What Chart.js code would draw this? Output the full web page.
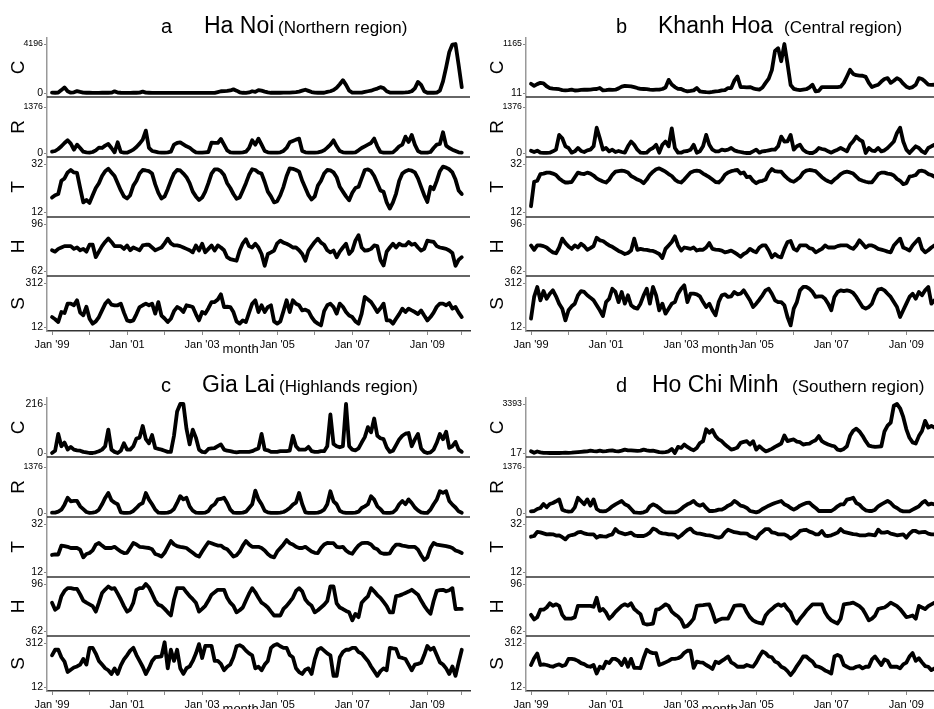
<!DOCTYPE html>
<html>
<head>
<meta charset="utf-8">
<script src="https://cdn.jsdelivr.net/npm/chart.js@4.4.1/dist/chart.umd.min.js"></script>
<style>
  html, body { margin: 0; padding: 0; background: #fff; overflow: hidden; width: 934px; height: 709px; }
  .panel { position: absolute; width: 480px; height: 360px; }
  .panel canvas { position: absolute; left: 0; top: 0; }
  .ttl { position: absolute; white-space: nowrap; line-height: 1; color: #000;
         font-family: "Liberation Sans", Arial, sans-serif; }
</style>
</head>
<body>
<div class="panel" style="left:0;top:0"><canvas id="ca" width="480" height="360"></canvas></div>
<div class="panel" style="left:479px;top:0"><canvas id="cb" width="480" height="360"></canvas></div>
<div class="panel" style="left:0;top:360px"><canvas id="cc" width="480" height="360"></canvas></div>
<div class="panel" style="left:479px;top:360px"><canvas id="cd" width="480" height="360"></canvas></div>
<script>
// ---- data: monthly series Jan 1999 .. Dec 2009 (132 months) ----
const xTickMonths = [0, 12, 24, 36, 48, 60, 72, 84, 96, 108, 120, 131];
const xTickLabels = ["Jan '99", "", "Jan '01", "", "Jan '03", "", "Jan '05", "", "Jan '07", "", "Jan '09", ""];
const varNames = ['C', 'R', 'T', 'H', 'S'];

const rTicks = [0, 1376];
const tTicks = [12, 32];
const hTicks = [62, 96];
const sTicks = [12, 312];
const haNoiCTicks = [0, 4196];
const khanhHoaCTicks = [11, 1165];
const giaLaiCTicks = [0, 216];
const hoChiMinhCTicks = [17, 3393];

const haNoiC = [
  30,20,40,250,480,150,30,60,160,90,30,20,
  20,15,15,15,20,20,20,30,140,40,20,15,
  15,15,20,20,30,120,30,20,15,15,15,15,
  10,10,10,10,10,10,10,10,10,10,10,10,
  10,10,10,10,15,80,150,160,180,220,310,200,
  60,20,10,50,150,100,250,200,120,50,20,20,
  20,20,30,30,40,60,80,120,200,280,180,80,
  30,20,20,20,100,150,250,450,750,1100,700,200,
  40,30,30,40,100,150,200,300,380,500,420,150,
  40,30,30,30,40,50,80,150,400,950,700,150,
  20,20,20,40,200,1000,2200,3500,4150,4196,2400,500];
const haNoiR = [
  40,60,120,200,300,380,280,100,250,150,40,20,
  10,30,80,160,150,220,270,150,20,320,30,10,
  10,50,100,180,280,400,670,150,60,40,20,10,
  10,20,40,250,300,320,260,200,160,80,20,10,
  10,20,30,310,300,300,420,250,80,20,10,10,
  10,20,40,150,380,250,430,250,60,20,10,10,
  10,20,60,150,320,360,400,430,60,20,10,10,
  10,20,40,80,160,250,380,200,60,20,10,10,
  10,20,80,150,200,250,300,430,200,30,10,10,
  10,20,100,200,250,490,330,540,250,60,10,10,
  10,30,150,250,270,620,220,150,100,60,20,10];
const haNoiT = [
  18,19,19.5,25,26,28.5,29.5,28.5,28.3,22,16,17,
  15.8,19,22,24,27,29,30,28.5,27,24,21,18.5,
  17.6,19,23,25,28,29.5,29.3,29,28,23.5,20,17.6,
  18.5,21.5,25,28,29.5,29.3,28,26.5,24,20.5,18.5,17,
  18,20.5,24,28,29.8,29.8,29,27.4,24,22,19.5,17.5,
  18,21,24,27.5,29.8,29.5,28.5,28,24.5,20.5,18.5,16,
  16.5,19,22.5,27,30.2,30,29.5,28.8,25,22,19,17.2,
  18.5,23,25,28,29.5,29.3,28.5,26.5,22.5,20.5,18.5,16.9,
  20,22,22.5,26,29.5,29.8,29,27,24,21,20.4,16,
  13.4,16,19.7,25,28,29,29.5,29.2,28.5,26,22.5,19,
  16.2,22.5,21.5,25,29,30.9,30.5,29.8,28.5,25.5,21,19.5];
const haNoiH = [
  77,76,78,79,80,80,80,78,79,77,78,76,
  81,81,72,76,80,83,85.5,83,80,80,80,78,
  80.5,77,79,78,77,80.5,81,81,79,77,78,79,
  82,85.4,82,80.5,80.5,80,79,78,77,75.5,80.5,76.8,
  81.7,75.5,78,80.5,76.8,80.5,79,77,72,70.6,70,69.4,
  76.8,82,85,80,79,81.7,79,74.3,65.7,74.3,75.5,76.8,
  82,84,82.5,81.7,80.5,79,79,77,74.3,69.4,76.8,80,
  83,85.4,82.5,81,77,75.5,76.8,71.9,76,79,81.7,74.3,
  76.8,84,87.9,79,76.8,77,78,80.5,80,70,66,76,
  79,81.7,79,81.7,80.5,80.5,83,81,81.7,79,76.8,78,
  84,83.5,83,80,79,78.5,78,76.8,75,65.7,70,72];
const haNoiS = [
  80,65,46,114,107,171,171,160,194,110,92,150,
  68,35,50,80,125,170,194,165,160,160,171,110,
  57,50,57,100,148,160,171,160,171,103,182,90,
  70,46,68,120,148,137,114,160,155,148,100,57,
  114,103,140,182,182,200,235,148,150,148,114,50,
  35,57,46,110,171,194,114,160,114,148,160,50,
  35,50,120,194,114,194,170,160,125,130,120,80,
  50,35,23,120,160,171,148,103,171,150,114,90,
  80,50,35,103,217,200,182,150,114,140,171,57,
  57,35,68,100,137,114,137,125,114,100,125,90,
  57,80,110,150,171,171,160,175,137,148,110,80];

const khanhHoaC = [
  230,180,220,250,240,170,128,115,110,100,80,73,
  80,90,70,75,85,90,88,90,100,105,128,73,
  80,90,85,90,120,160,180,175,167,150,128,110,
  105,100,90,85,90,90,105,140,320,210,150,110,
  105,70,50,60,73,128,50,40,30,27,35,50,
  55,73,80,128,128,300,401,151,151,145,151,120,
  100,90,140,250,350,550,1000,1064,760,1165,700,200,
  110,90,80,90,100,140,206,50,60,151,150,151,
  151,150,151,160,250,400,557,460,430,420,417,390,
  250,151,180,206,280,340,362,250,300,362,320,230,
  160,128,150,206,362,340,280,210,200,206,200,200];
const khanhHoaR = [
  70,30,70,10,5,5,10,50,100,540,440,200,
  150,10,50,150,60,30,80,100,200,757,440,100,
  150,50,100,30,60,30,10,200,344,246,100,10,
  5,10,100,150,246,10,246,344,200,737,150,10,
  10,50,60,100,246,10,50,200,540,246,100,50,
  50,100,80,100,150,80,50,30,10,0,0,50,
  100,10,50,60,80,100,100,200,491,344,350,540,
  100,200,246,100,30,0,0,50,150,120,100,50,
  10,60,100,150,100,50,246,350,491,400,344,0,
  150,70,60,150,50,80,150,246,344,600,757,344,
  100,0,100,200,150,50,0,150,200,246,250,200];
const khanhHoaT = [
  14.4,24.6,25,27.8,28,28.4,28.4,28,27.4,26,25,24.3,
  24.3,24.5,26.5,28.4,28,27.8,28.4,28,27.2,26,25.3,24.7,
  24.3,25.5,27.5,28.8,29,29.2,29,28.5,27,26.3,25.5,25,
  24,25.5,27.5,28.8,29.8,30.2,29.5,28.8,27.8,27,25.5,24.6,
  24.3,25.5,27,28.5,29,29.2,29,28,27.3,26.5,25.5,24.5,
  24.3,25.5,27.5,28.5,29,29.3,29.5,28,28.5,26.5,26.7,25,
  24,24.8,25,25.5,28.4,29.9,29,28.8,28.8,27.2,26,25,
  24.6,25.5,26.5,28.4,29.2,29.5,29.3,29,27.8,26.5,25.5,24.8,
  24.3,25.5,26.5,27.8,28.5,28.8,28.5,28,26.7,25.5,25,24.6,
  24.3,24.4,26,27.8,28.4,28.4,28,27.8,27.2,25.8,25,23.6,
  24,26.7,27,27.4,29,29.2,28.8,27.8,27.4,26.7,26.5,26];
const khanhHoaH = [
  80.5,77.3,80.5,80.5,80,79,77,75.5,74.8,79,85.4,82.2,
  79.8,78,80.5,79,81.7,80,77.3,78.5,80,86.1,84.2,83.7,
  82,80.5,79.5,78,76.5,75.5,74.3,75,76.8,85.4,77.3,78,
  77.5,77.3,76.8,76.5,75.5,74.3,71.4,78,80.5,83,87.1,80.5,
  76.8,79,78.5,78,79,76.8,77.5,77.3,79,82.2,78,77.5,
  77.3,76.8,75.5,76,76.8,75.5,74,72.3,74.3,75.5,78,76.5,
  75.5,79,80.5,80.5,76.8,71.9,74.3,72.5,71.9,78,83,83.7,
  78,76.8,80.5,80.5,80.5,78.5,78,75.5,76.8,78,80.5,79,
  79,79,80,80.5,80.5,80.5,79,78,80.5,84.2,81.7,79,
  80.5,80.5,79.5,78,77.5,76.8,76,75.5,80.5,83,85.4,79,
  78,76.8,80.5,83,85.4,78,75.5,77,79,80.5,80,80];
const khanhHoaS = [
  69,217,285,194,257,205,239,262,221,171,137,57,
  126,153,171,228,257,251,228,212,194,160,126,87,
  182,205,273,251,182,251,171,228,160,144,137,171,
  228,273,171,285,228,126,171,103,137,171,182,239,
  273,296,182,239,239,235,221,182,148,171,126,92,
  182,228,235,217,221,251,235,239,262,228,194,148,
  171,198,228,262,273,239,194,182,182,160,80,23,
  137,182,262,285,285,273,251,217,221,221,205,171,
  126,217,251,262,257,262,257,244,217,182,148,137,
  148,171,228,267,273,262,239,217,182,148,80,126,
  171,217,239,205,251,228,262,285,171,194,182,194];

const giaLaiC = [
  0,10,84,30,46,15,27,15,12,10,5,3,
  0,0,3,8,15,30,103,15,5,0,10,43,
  15,15,30,64,68,119,61,43,79,22,18,15,
  10,5,5,76,183,216,216,106,38,103,68,15,
  5,3,18,20,22,30,38,15,10,8,5,3,
  5,5,5,5,8,15,20,84,15,12,5,5,
  5,8,8,8,10,76,30,15,15,15,27,8,
  5,5,8,8,30,170,40,30,25,30,216,30,
  15,12,20,46,70,114,91,152,76,65,61,25,
  5,10,35,60,76,85,88,30,60,84,20,5,
  0,3,15,45,84,61,94,23,30,49,15,5];
const giaLaiR = [
  10,10,40,100,250,455,350,360,360,200,116,30,
  5,10,30,100,260,450,600,380,310,262,20,5,
  5,10,60,150,250,300,600,400,262,100,10,5,
  5,10,40,120,300,504,407,455,200,68,10,5,
  5,10,60,200,262,407,420,455,300,100,10,5,
  5,10,40,150,262,669,407,262,68,20,5,5,
  5,10,30,80,150,250,310,600,262,20,5,5,
  5,10,40,100,262,650,350,262,68,20,5,5,
  5,10,40,150,200,262,504,400,200,116,10,5,
  5,20,100,262,360,262,407,300,165,80,20,5,
  5,100,262,400,650,600,650,360,250,165,50,10];
const giaLaiT = [
  19.1,19.3,19.3,23,22.8,22.5,22,22,22,21.3,18.1,19.5,
  19.9,21,23.4,24.1,23,22,22,22,22.5,21.5,20.5,19.9,
  20,22,24.1,23.5,22.5,22.4,22.2,22,21.5,19.5,19.1,18.4,
  20,22.5,24.9,23.5,22.8,22.5,22.3,22,21,20,19,18.4,
  20.5,22.5,24.4,24,23.5,23,23,22,21.5,20,18.4,19,
  20.5,23,24.9,23.5,22.5,22.5,22.5,22,21,19.5,18.5,18.1,
  20.5,22,23.5,25.3,24,23.5,22.5,22,22,22.5,21.5,20.5,
  20,19.9,22,23.5,24.1,24,24,22.5,22.3,22.5,21,20,
  19.6,21.5,23,24,24.1,24.1,23.5,22,21.5,20,19.6,19.6,
  19.8,22,23.4,23.4,23,22.8,22.5,22.5,22.5,21.3,19,17,
  18.1,22,24.1,23.4,23.2,23,22.8,22.5,22,21,20.5,19.9];
const giaLaiH = [
  82.5,77.4,79,87.2,91,93,93,92.5,92.5,88.5,84,82.5,
  81.3,80,76,82.5,89.5,92,94.2,92.5,93,89,84.8,80,
  76,77.5,82.5,91.8,93,93,96,93.5,89,84,81,80.2,
  78,75.5,73.2,84.8,93,93,93,90,87.2,85,82.5,76,
  78,80.2,84,88.3,90,91.8,91.8,91.8,86,82.5,80.2,75.5,
  77,79,84,89,93,90,86,82.5,81,79,76,73.2,
  73.2,73.2,78,80.2,83,86,91,93,90.7,84.8,82,80.2,
  75.5,77,79,81,83.7,94.2,94.2,82,79,77.9,76.5,75.5,
  69.7,74.4,72,82.5,85,87,93,90.7,88,86,83,80,
  75.5,75.5,87.2,87.6,88.5,89.5,90.5,91.8,90,88.3,84,80.2,
  77,74.4,83.7,91,91.5,91.8,90.7,91.5,93,77.9,78,78];
const giaLaiS = [
  228,266,266,215,185,114,130,145,152,165,203,165,
  279,279,240,190,165,140,126,101,139,101,160,200,
  228,260,279,230,190,150,100,140,190,215,218,221,
  317,139,266,190,266,140,101,140,152,190,240,304,
  210,292,292,292,190,190,170,126,150,165,215,290,
  297,285,260,241,228,139,150,126,165,190,279,297,
  304,290,279,279,230,215,140,114,101,130,139,101,
  200,266,279,260,241,228,88,88,215,250,266,266,
  279,279,250,241,215,190,152,120,88,120,139,126,
  279,275,272,215,210,203,165,126,165,170,177,230,
  292,266,279,230,180,165,139,101,152,88,180,266];

const hoChiMinhC = [
  133,30,120,60,30,20,17,17,17,17,30,40,
  30,40,60,80,100,120,133,180,150,133,180,133,
  150,180,203,150,133,180,250,200,203,180,160,180,
  250,200,160,180,133,80,60,80,133,297,17,436,
  366,600,436,300,203,366,700,832,1650,1415,1600,1180,
  950,832,600,436,250,300,400,716,780,832,600,832,
  250,483,300,133,200,300,436,550,670,1228,832,900,
  950,800,763,600,640,670,800,900,1180,832,700,600,
  530,483,250,203,300,483,1200,1550,1695,1500,1200,832,
  530,480,436,460,483,1500,1900,2113,3280,3393,3100,2500,
  1650,1065,750,670,1180,1530,2230,1765,1880,1760,1800,1850];
const hoChiMinhR = [
  50,60,120,150,270,170,270,300,350,407,100,60,
  40,50,170,455,360,260,407,220,407,120,60,50,
  60,120,200,260,310,360,260,220,120,20,10,5,
  20,60,200,260,220,150,60,20,20,20,20,50,
  120,200,260,300,360,260,220,260,150,60,60,70,
  100,100,150,220,260,360,300,220,200,150,60,40,
  20,50,120,170,220,260,300,330,360,260,220,150,
  100,150,220,260,300,310,220,150,60,60,60,60,
  60,120,200,260,260,400,420,455,300,250,150,80,
  60,60,100,200,260,310,360,300,200,150,80,50,
  50,50,100,150,200,300,360,250,280,260,300,280];
const hoChiMinhT = [
  26.7,27,28.7,28.5,28.1,27.7,27.8,27.7,27.2,27.3,26.5,25.6,
  27,27.4,27.7,28.5,28.7,28.1,27.8,27.7,27.7,26.3,27,26.8,
  26.7,27.3,27.7,29.9,28.6,28.2,27.7,28,28.4,27.3,27,27,
  27,27.5,28.4,30.1,29.6,28.5,28.1,28,27.7,27.7,27.5,26.3,
  27.2,28.4,29.5,30.1,28.7,28.1,28,27.7,27.4,27.3,27,26.5,
  26.3,26.7,28.5,29.6,29.1,28.6,28.4,28.1,28.1,28,27,26.5,
  25.9,27.7,28.8,29.9,29.9,28.5,28.3,27.7,27.7,27.7,27,25.9,
  26.8,27.7,29.1,29.4,29.6,28.8,28.4,27.7,27.7,29.1,27.2,27,
  27.3,27.8,28.4,29.9,28.7,28.4,28.1,27.8,27.7,27.3,27.3,27.3,
  27.7,27.5,27.3,29.6,28.4,28.4,28.7,28,27.7,27.3,27.5,27.7,
  26.3,28,29.1,29.1,28.4,28.6,28.7,28,27.7,27.7,27.7,27.7];
const hoChiMinhH = [
  73.7,70.4,72,77.4,77.4,79,82,80.2,81.3,80.2,73.7,70.9,
  70.9,71,72,80.2,80.2,80.2,80.2,80.2,79.5,86,76.6,77.9,
  75.3,70.9,73,75.8,78,80.2,81.3,80.2,82,77.9,76,74.2,
  67.4,66.7,67,67.4,77.4,77.9,79.5,81.3,80.2,76,74,72.5,
  70,65,65.7,68,70.9,80.2,80.5,80.7,81,81.3,75.5,68.5,
  70,70.9,70.9,70.9,75.5,80.2,80.5,80.7,80.2,75.5,72,69.7,
  68.5,67.8,67.4,73.2,76,77.9,80,81.3,80.2,81.3,78,75.5,
  70,67.4,70.9,73.5,76.6,79,81.3,81.3,81.3,81.3,75.5,72,
  69.7,68.5,67.4,70.9,81.3,81.7,82,82.5,81.3,80,77.9,74,
  69.7,71,73.2,77.9,78.5,79,80.5,82.5,81.3,80,77.9,75,
  72,72.5,73.2,70.9,80.2,79,77.9,80,81.3,82.5,82,81];
const hoChiMinhS = [
  162,208,240,162,166,162,155,150,160,166,155,162,
  204,204,200,190,175,168,155,150,162,104,150,139,
  185,175,204,204,190,162,204,150,204,143,143,140,
  210,266,250,243,243,162,170,180,190,204,204,208,
  220,245,259,259,143,185,180,178,162,150,135,185,
  175,190,204,220,180,168,150,150,150,162,155,150,
  180,220,254,243,220,215,185,175,150,140,120,93,
  120,155,185,220,220,200,185,155,150,140,125,116,
  104,220,231,220,162,150,139,139,150,155,139,150,
  150,200,220,190,162,200,190,150,150,150,139,166,
  178,220,243,190,208,180,155,150,127,139,150,145];

const panels = [
  { canvas: 'ca', letter: 'a', name: 'Ha Noi', region: '(Northern region)', pos: [161, 204, 278], base: 33,
    series: [haNoiC, haNoiR, haNoiT, haNoiH, haNoiS], ticks: [haNoiCTicks, rTicks, tTicks, hTicks, sTicks] },
  { canvas: 'cb', letter: 'b', name: 'Khanh Hoa', region: '(Central region)', pos: [137, 179, 305], base: 33,
    series: [khanhHoaC, khanhHoaR, khanhHoaT, khanhHoaH, khanhHoaS], ticks: [khanhHoaCTicks, rTicks, tTicks, hTicks, sTicks] },
  { canvas: 'cc', letter: 'c', name: 'Gia Lai', region: '(Highlands region)', pos: [161, 202, 279], base: 32,
    series: [giaLaiC, giaLaiR, giaLaiT, giaLaiH, giaLaiS], ticks: [giaLaiCTicks, rTicks, tTicks, hTicks, sTicks] },
  { canvas: 'cd', letter: 'd', name: 'Ho Chi Minh', region: '(Southern region)', pos: [137, 173, 313], base: 32,
    series: [hoChiMinhC, hoChiMinhR, hoChiMinhT, hoChiMinhH, hoChiMinhS], ticks: [hoChiMinhCTicks, rTicks, tTicks, hTicks, sTicks] }
];

// ---- layout (pixels inside one 480x360 panel) ----
const FONT = '"Liberation Sans", Arial, sans-serif';
const PANEL_H = 360, RIGHT_PAD = 10, AXIS_W = 47, PLOT_TOP = 38, PLOT_BOTTOM = 331;
const X0_PX = 52, PX_PER_MONTH = 3.128;
// each strip: top, bottom, pixel of high tick, pixel of low tick
const strips = [[38, 97, 44, 93], [97, 157, 107, 153], [157, 217, 164, 212], [217, 276, 224, 271], [276, 331, 283, 327]];
const xMin = -(X0_PX - AXIS_W) / PX_PER_MONTH;
const xMax = xMin + (480 - RIGHT_PAD - AXIS_W) / PX_PER_MONTH;

const stripLines = {
  id: 'stripLines',
  afterDraw(chart) {
    const { ctx, chartArea } = chart;
    ctx.save();
    ctx.strokeStyle = '#333';
    ctx.lineWidth = 1.5;
    varNames.slice(0, 4).forEach(v => {
      const y = chart.scales[v].bottom;
      ctx.beginPath();
      ctx.moveTo(chartArea.left, y);
      ctx.lineTo(chartArea.right, y);
      ctx.stroke();
    });
    ctx.fillStyle = '#000';
    ctx.font = '13px ' + FONT;
    ctx.textAlign = 'center';
    ctx.textBaseline = 'alphabetic';
    ctx.fillText('month', chart.scales.x.getPixelForValue(60.3), 353);
    ctx.restore();
  }
};

function makeTitle(p, host) {
  const parts = [[p.letter, 20, p.pos[0]], [p.name, 23, p.pos[1]], [p.region, 17, p.pos[2]]];
  parts.forEach(([txt, size, left]) => {
    const s = document.createElement('span');
    s.className = 'ttl';
    s.textContent = txt;
    s.style.fontSize = size + 'px';
    s.style.left = left + 'px';
    s.style.top = (p.base - 0.8465 * size) + 'px';
    host.appendChild(s);
  });
}

panels.forEach(p => {
  const canvas = document.getElementById(p.canvas);
  makeTitle(p, canvas.parentNode);

  const scales = {
    x: {
      type: 'linear', position: 'bottom', min: xMin, max: xMax, bounds: 'data',
      afterBuildTicks: s => { s.ticks = xTickMonths.map(v => ({ value: v })); },
      afterFit: s => { s.height = PANEL_H - PLOT_BOTTOM; },
      ticks: { autoSkip: false, maxRotation: 0, padding: 3, color: '#000',
               font: { family: FONT, size: 11 },
               callback: v => xTickLabels[xTickMonths.indexOf(v)] },
      grid: { drawOnChartArea: false, drawTicks: true, tickLength: 4, color: '#888' },
      border: { display: true, color: '#333', width: 1.5 }
    }
  };

  varNames.forEach((v, k) => {
    const [top, bottom, hiPx, loPx] = strips[k];
    const [lo, hi] = p.ticks[k];
    const perPx = (hi - lo) / (loPx - hiPx);
    scales[v] = {
      type: 'linear', position: 'left', stack: 'strips', stackWeight: bottom - top, weight: 5 - k,
      bounds: 'data',
      min: lo - (bottom - loPx) * perPx,
      max: hi + (hiPx - top) * perPx,
      afterBuildTicks: s => { s.ticks = [{ value: lo }, { value: hi }]; },
      afterFit: s => { s.width = AXIS_W; },
      ticks: {
        padding: 1, color: '#000',
        callback: val => String(val),
        font: ctx => ({ family: FONT, size: String(ctx.tick ? ctx.tick.value : '').length >= 4 ? 8.8 : 10.5 })
      },
      grid: { drawOnChartArea: false, drawTicks: true, tickLength: 3, color: '#888' },
      border: { display: true, color: '#999', width: 1.5 },
      title: { display: true, text: v, color: '#000', font: { family: FONT, size: 19 },
               padding: { top: 7, bottom: 0 } }
    };
  });

  const datasets = varNames.map((v, k) => ({
    label: v,
    yAxisID: v,
    data: p.series[k].map((y, i) => ({ x: i, y: y })),
    borderColor: '#000',
    borderWidth: 3.8,
    borderJoinStyle: 'round',
    borderCapStyle: 'round',
    pointRadius: 0,
    tension: 0,
    fill: false
  }));

  new Chart(canvas, {
    type: 'line',
    data: { datasets },
    options: {
      responsive: false,
      animation: false,
      layout: { padding: { top: PLOT_TOP, right: RIGHT_PAD, bottom: 0, left: 0 } },
      plugins: { legend: { display: false }, tooltip: { enabled: false }, title: { display: false } },
      scales
    },
    plugins: [stripLines]
  });
});
</script>
</body>
</html>
